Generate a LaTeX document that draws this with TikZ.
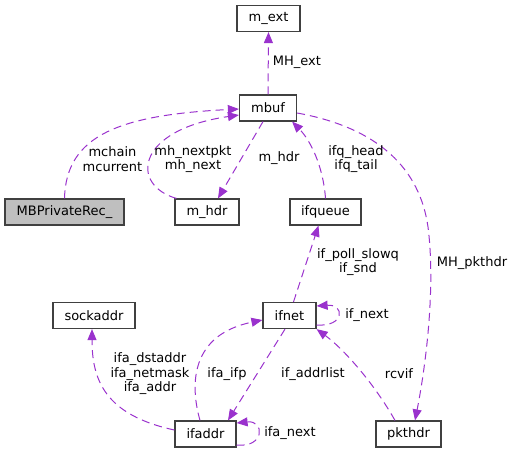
\documentclass[tikz,border=0pt]{standalone}
\usepackage{fontspec}
\setmainfont{DejaVu Sans}
\usetikzlibrary{arrows.meta}
\definecolor{edgec}{HTML}{9A32CD}
\definecolor{boxc}{HTML}{404040}
\begin{document}
\begin{tikzpicture}[x=1pt,y=-1pt,
  every node/.style={font=\fontsize{13}{14.5}\selectfont},
  box/.style={draw=boxc,line width=1.2pt,fill=white,inner sep=0pt,minimum height=26},
  rootbox/.style={box,fill=black!25},
  edge/.style={draw=edgec,line width=1pt,dash pattern=on 8pt off 5pt,-{Triangle[length=11pt,width=9pt]}},
  lbl/.style={align=center,inner sep=0pt}]
\useasboundingbox (0,0) rectangle (513,453);
% nodes
\node[box,minimum width=63] (mext) at (268.5,18.5) {m\_ext};
\node[box,minimum width=57] (mbuf) at (268,108) {mbuf};
\node[rootbox,minimum width=119] (mpriv) at (64.5,212) {MBPrivateRec\_};
\node[box,minimum width=64] (mhdr) at (207,212) {m\_hdr};
\node[box,minimum width=71] (ifqueue) at (325.5,212) {ifqueue};
\node[box,minimum width=82] (sockaddr) at (94,315.5) {sockaddr};
\node[box,minimum width=53] (ifnet) at (289.5,315.5) {ifnet};
\node[box,minimum width=61] (ifaddr) at (205.5,434) {ifaddr};
\node[box,minimum width=65] (pkthdr) at (408.5,434) {pkthdr};
% edges
\draw[edge] (mpriv.north) .. controls (66,135) and (120,115) .. ([yshift=-1pt]mbuf.west);
\draw[edge] ([xshift=2pt]mhdr.north west) .. controls (130,185) and (135,130) .. ([yshift=-7pt]mbuf.west);
\draw[edge] ([xshift=-5pt]mbuf.south) -- ([xshift=11pt]mhdr.north);
\draw[edge] (mbuf.north) -- (mext.south);
\draw[edge] (ifqueue.north) .. controls (323,165) and (310,140) .. ([xshift=-5pt]mbuf.south east);
\draw[edge] ([yshift=-5pt]mbuf.east) .. controls (380,128) and (420,170) .. (428,227)
  .. controls (436,290) and (425,370) .. ([xshift=6.5pt]pkthdr.north);
\draw[edge] ([xshift=4pt]ifnet.north) -- ([xshift=-7pt]ifqueue.south);
\draw[edge] ([yshift=-9.5pt]ifnet.east) .. controls (345,327) and (345,304) .. ([yshift=9.5pt]ifnet.east);
\draw[edge] ([xshift=-4.5pt]ifnet.south) -- ([xshift=22.5pt]ifaddr.north);
\draw[edge] ([xshift=-5.5pt]ifaddr.north) .. controls (190,385) and (190,335) .. ([yshift=-4.5pt]ifnet.west);
\draw[edge] ([yshift=4pt]ifaddr.west) .. controls (105,415) and (92,380) .. ([xshift=-2pt]sockaddr.south);
\draw[edge] ([yshift=-11pt]ifaddr.east) .. controls (265,448) and (265,420) .. ([yshift=11pt]ifaddr.east);
\draw[edge] ([xshift=-13.5pt]pkthdr.north) .. controls (375,385) and (345,350) .. (ifnet.south east);
% labels
\node[lbl] (l1) at (112.5,159) {mchain\\mcurrent};
\node[lbl] (l2) at (193,159) {mh\_nextpkt\\mh\_next};
\node[lbl] (l3) at (297,62) {MH\_ext};
\node[lbl] (l4) at (279,158) {m\_hdr};
\node[lbl] (l5) at (356,159) {ifq\_head\\ifq\_tail};
\node[lbl] (l6) at (472,263) {MH\_pkthdr};
\node[lbl] (l7) at (358,262) {if\_poll\_slowq\\if\_snd};
\node[lbl] (l8) at (367,315) {if\_next};
\node[lbl] (l9) at (313,374) {if\_addrlist};
\node[lbl] (l10) at (399,374) {rcvif};
\node[lbl] (l11) at (290,433) {ifa\_next};
\node[lbl] (l12) at (150,374) {ifa\_dstaddr\\ifa\_netmask\\ifa\_addr};
\node[lbl] (l13) at (227,374) {ifa\_ifp};
\end{tikzpicture}
\end{document}
